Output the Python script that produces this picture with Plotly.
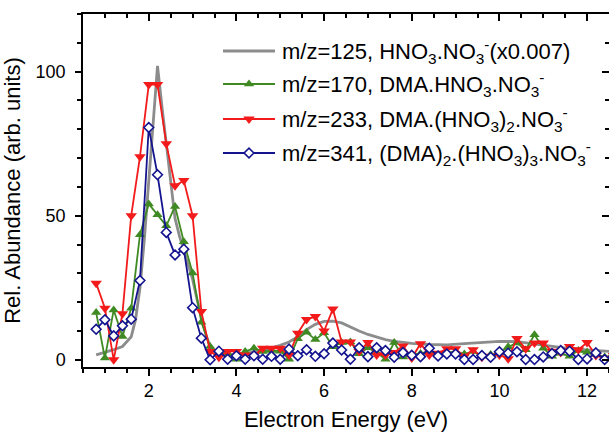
import plotly.graph_objects as go

# ---- data -------------------------------------------------------------
# electron energy grid for the cluster ion scans (eV)
energy = [round(0.8 + 0.2 * i, 1) for i in range(60)]

# m/z=170, DMA.HNO3.NO3-
mz170 = [16.4, 0.6, 17.3, 8.1, 17.9, 43.4, 54.1, 50.3, 46.5, 53.2,
         41.0, 30.1, 13.0, 4.6, 2.3, 2.3, 0.2, 2.9, 4.0, 2.9,
         3.2, 3.0, 0.2, 7.3, 9.6, 7.0, 9.4, 4.5, 6.0, 6.2,
         2.1, 4.2, 2.5, 0.2, 6.0, 1.0, 1.8, 2.2, 2.9, 1.7,
         2.5, 2.9, 2.0, 2.9, 1.2, 1.8, 2.3, 4.5, 5.8, 3.5,
         8.7, 4.0, 1.2, 2.3, 1.2, 3.2, 2.6, 1.8, 1.0, 1.5]

# m/z=233, DMA.(HNO3)2.NO3-
mz233 = [26.6, 17.9, 0.0, 16.0, 50.0, 70.5, 95.5, 95.5, 75.0, 60.4,
         62.2, 50.0, 16.8, 2.9, 0.9, 2.9, 2.9, 1.7, 1.4, 4.0,
         4.0, 4.0, 1.7, 9.2, 14.0, 15.0, 10.0, 17.6, 6.2, 6.2,
         2.9, 6.0, 1.7, 1.7, 2.5, 4.8, 0.6, 5.6, 1.7, 2.3,
         3.8, 3.8, 1.2, 3.5, 0.9, 1.2, 1.7, 0.4, 7.4, 3.8,
         5.8, 5.8, 3.0, 2.5, 4.6, 3.5, 6.0, 1.5, 0.5, 1.5]

# m/z=341, (DMA)2.(HNO3)3.NO3-
mz341 = [10.6, 13.9, 8.3, 11.8, 14.1, 27.5, 80.6, 64.2, 44.2, 36.4,
         38.4, 18.1, 7.5, 0.0, 3.0, 0.2, 1.4, 0.2, 1.4, 0.2,
         1.2, 0.2, 3.7, 1.4, 3.5, 1.2, 2.1, 5.8, 3.4, 0.2,
         4.2, 1.1, 4.2, 3.2, 0.9, 2.5, 1.6, 1.1, 4.0, 1.3,
         2.0, 2.0, 0.1, 0.1, 1.5, 0.9, 2.8, 2.3, 2.8, 0.1,
         0.1, 1.0, 2.2, 3.2, 3.0, 0.1, 0.3, 2.4, 0.1, 1.0]

# m/z=125, HNO3.NO3- (scaled x0.007), finer energy steps
energy125 = [0.8, 1.0, 1.2, 1.4, 1.6, 1.7, 1.8, 1.9, 2.0, 2.1,
             2.2, 2.3, 2.4, 2.5, 2.6, 2.7, 2.8, 2.9, 3.0, 3.1,
             3.2, 3.3, 3.4, 3.5, 3.6, 3.8, 4.0, 4.2, 4.4, 4.6,
             4.8, 5.0, 5.2, 5.4, 5.6, 5.8, 6.0, 6.2, 6.4, 6.6,
             6.8, 7.0, 7.2, 7.4, 7.6, 7.8, 8.0, 8.4, 8.8, 9.2,
             9.6, 10.0, 10.4, 10.8, 11.2, 11.6, 12.0, 12.4, 12.6]
mz125 = [1.7, 2.5, 3.5, 4.6, 8.0, 14.0, 25.0, 42.0, 62.0, 84.0,
         102.0, 88.0, 75.0, 60.0, 49.0, 43.0, 38.0, 33.0, 28.0, 21.0,
         15.0, 9.0, 4.5, 2.5, 2.0, 1.8, 2.0, 2.3, 2.7, 3.2,
         4.0, 5.0, 6.2, 8.0, 10.5, 12.3, 13.3, 13.4, 12.8, 11.3,
         10.0, 8.8, 7.8, 7.0, 6.4, 6.0, 5.7, 5.3, 5.2, 5.6,
         6.0, 6.4, 6.3, 5.5, 4.6, 3.9, 3.4, 3.0, 2.8]

legend_labels = [
    "m/z=125, HNO<sub>3</sub>.NO<sub>3</sub><sup>-</sup>(x0.007)",
    "m/z=170, DMA.HNO<sub>3</sub>.NO<sub>3</sub><sup>-</sup>",
    "m/z=233, DMA.(HNO<sub>3</sub>)<sub>2</sub>.NO<sub>3</sub><sup>-</sup>",
    "m/z=341, (DMA)<sub>2</sub>.(HNO<sub>3</sub>)<sub>3</sub>.NO<sub>3</sub><sup>-</sup>",
]

# ---- styling ----------------------------------------------------------
FONT = "Liberation Sans, Arial, sans-serif"
GRAY, GREEN, RED, BLUE = "#8c8c8c", "#3f8a22", "#f21a1a", "#14148f"

W, H = 609, 432
M_L, M_R, M_T, M_B = 83, 0, 14, 65

styles = [
    dict(line=dict(color=GRAY, width=2.8), mode="lines", marker=None),
    dict(line=dict(color=GREEN, width=1.8), mode="lines+markers",
         marker=dict(symbol="triangle-up", size=9, color=GREEN)),
    dict(line=dict(color=RED, width=1.8), mode="lines+markers",
         marker=dict(symbol="triangle-down", size=10, color=RED)),
    dict(line=dict(color=BLUE, width=1.8), mode="lines+markers",
         marker=dict(symbol="diamond", size=7.5, color="white",
                     line=dict(color=BLUE, width=1.6))),
]

fig = go.Figure()
series = [(energy125, mz125), (energy, mz170), (energy, mz233), (energy, mz341)]
for (xs, ys), st in zip(series, styles):
    kw = dict(x=xs, y=ys, mode=st["mode"], line=st["line"],
              showlegend=False, hoverinfo="skip")
    if st["marker"] is not None:
        kw["marker"] = st["marker"]
    fig.add_trace(go.Scatter(**kw))

# ---- legend keys, drawn on a pixel-coordinate overlay ----------------
leg_rows = [51, 84, 119, 153]
key_x0, key_x1, text_x = 223, 275, 280
for row, st, label in zip(leg_rows, styles, legend_labels):
    fig.add_trace(go.Scatter(x=[key_x0, key_x1], y=[row, row], mode="lines",
                             line=st["line"], xaxis="x3", yaxis="y3",
                             showlegend=False, hoverinfo="skip"))
    if st["marker"] is not None:
        fig.add_trace(go.Scatter(x=[(key_x0 + key_x1) / 2], y=[row],
                                 mode="markers", marker=st["marker"],
                                 xaxis="x3", yaxis="y3",
                                 showlegend=False, hoverinfo="skip"))
    fig.add_annotation(x=text_x, y=row, xref="x3", yref="y3", text=label,
                       showarrow=False, xanchor="left", yanchor="middle",
                       font=dict(family=FONT, size=22, color="black"))

# empty trace so the mirrored tick axes get a subplot
fig.add_trace(go.Scatter(x=[None], y=[None], xaxis="x2", yaxis="y2",
                         showlegend=False, hoverinfo="skip"))

tick_font = dict(family=FONT, size=18, color="black")
common = dict(showgrid=False, zeroline=False, linecolor="black",
              linewidth=1.5, tickcolor="black", tickwidth=1.5,
              automargin=False)

fig.update_layout(
    width=W, height=H,
    margin=dict(l=M_L, r=M_R, t=M_T, b=M_B, pad=0, autoexpand=False),
    paper_bgcolor="white", plot_bgcolor="white",
    font=dict(family=FONT, color="black"),
    xaxis=dict(range=[0.5, 12.5], tick0=0, dtick=2, ticks="outside",
               ticklen=7, showline=True, tickfont=tick_font,
               minor=dict(dtick=0.5, tick0=0, ticks="outside", ticklen=4,
                          tickwidth=1.5, tickcolor="black"),
               title=dict(text="Electron Energy (eV)",
                          font=dict(family=FONT, size=22), standoff=18),
               **common),
    yaxis=dict(range=[-2.5, 120], tick0=0, dtick=50, ticks="outside",
               ticklen=6, showline=True, tickfont=tick_font,
               ticklabelstandoff=6,
               minor=dict(dtick=10, tick0=0, ticks="outside", ticklen=4,
                          tickwidth=1.5, tickcolor="black"),
               title=dict(text="Rel. Abundance (arb. units)",
                          font=dict(family=FONT, size=22), standoff=10),
               **common),
    xaxis2=dict(range=[0.5, 12.5], overlaying="x", side="top", anchor="y2",
                tick0=0, dtick=2, ticks="inside", ticklen=7,
                showticklabels=False, showline=True,
                minor=dict(dtick=0.5, tick0=0, ticks="inside", ticklen=4,
                           tickwidth=1.5, tickcolor="black"),
                **common),
    yaxis2=dict(range=[-2.5, 120], overlaying="y", side="right", anchor="x2",
                tick0=0, dtick=50, ticks="inside", ticklen=7,
                showticklabels=False, showline=False,
                minor=dict(dtick=10, tick0=0, ticks="inside", ticklen=4,
                           tickwidth=1.5, tickcolor="black"),
                **common),
    xaxis3=dict(range=[M_L, W - M_R], overlaying="x", visible=False,
                anchor="y3", fixedrange=True),
    yaxis3=dict(range=[H - M_B, M_T], overlaying="y", visible=False,
                anchor="x3", fixedrange=True),
)

fig.write_html("out.html")
